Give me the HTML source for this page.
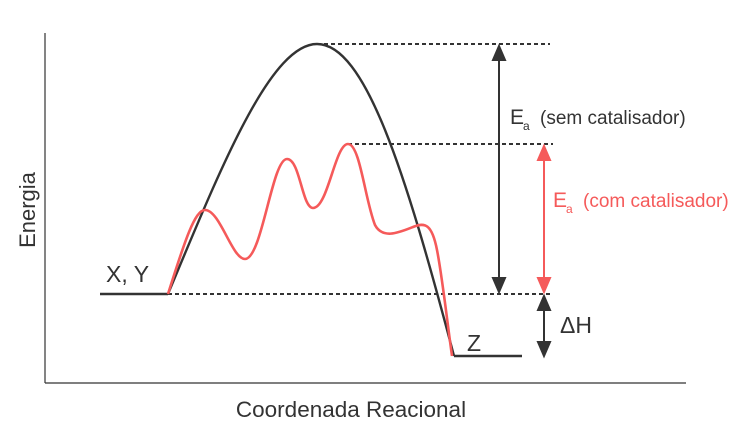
<!DOCTYPE html>
<html><head><meta charset="utf-8"><style>body{margin:0;background:#fff}svg{display:block}</style></head>
<body>
<svg width="750" height="433" viewBox="0 0 750 433" xmlns="http://www.w3.org/2000/svg" font-family="Liberation Sans, sans-serif">
<g stroke="#333" stroke-width="1.2" fill="none">
<line x1="45" y1="33" x2="45" y2="383"/>
<line x1="45" y1="383" x2="686" y2="383"/>
</g>
<g stroke="#333" stroke-width="2" stroke-dasharray="4,3" fill="none">
<line x1="317" y1="44" x2="550" y2="44"/>
<line x1="348" y1="144" x2="553" y2="144"/>
<line x1="168" y1="294" x2="553" y2="294"/>
</g>
<g stroke="#333" stroke-width="2.4" fill="none">
<line x1="100" y1="294" x2="168" y2="294"/>
<line x1="454" y1="356" x2="522" y2="356"/>
<path d="M168,294 C220,170 270,44 317,44 C365,44 405,170 454,356"/>
</g>
<path d="M168,294 C185,240 195,210 205,210 C220,210 232,259 245,259 C262,259 272,159 287,159 C300,159 302,208 313,208 C328,208 335,144 348,144 C360,144 365,200 375,225 C383,240 400,232 413,227 C425,222 432,224 437,250 C442,275 447,320 452,356" stroke="#f55a5a" stroke-width="2.6" fill="none"/>
<g stroke="#333" stroke-width="2" fill="#333">
<line x1="499" y1="58" x2="499" y2="280"/>
<polygon points="499,46 493,60 505,60"/>
<polygon points="499,292 493,278 505,278"/>
<line x1="544" y1="308" x2="544" y2="342"/>
<polygon points="544,296 538,310 550,310"/>
<polygon points="544,356 538,342 550,342"/>
</g>
<g stroke="#f55a5a" stroke-width="2" fill="#f55a5a">
<line x1="544" y1="158" x2="544" y2="280"/>
<polygon points="544,146 538,160 550,160"/>
<polygon points="544,292 538,278 550,278"/>
</g>
<g fill="#333" font-size="19">
<text x="510" y="124" font-size="21">E</text><text x="523" y="130" font-size="12">a</text>
<text x="540" y="124">(sem catalisador)</text>
<text x="560" y="333" font-size="23">ΔH</text>
<text x="467" y="351" font-size="23">Z</text>
<text x="106" y="282" font-size="23">X, Y</text>
<text x="351" y="417" text-anchor="middle" font-size="22.5">Coordenada Reacional</text>
<text transform="translate(35,210) rotate(-90)" text-anchor="middle" font-size="22">Energia</text>
</g>
<g fill="#f55a5a" font-size="19">
<text x="553" y="207" font-size="21">E</text><text x="566" y="213" font-size="12">a</text>
<text x="583" y="207">(com catalisador)</text>
</g>
</svg>
</body></html>
